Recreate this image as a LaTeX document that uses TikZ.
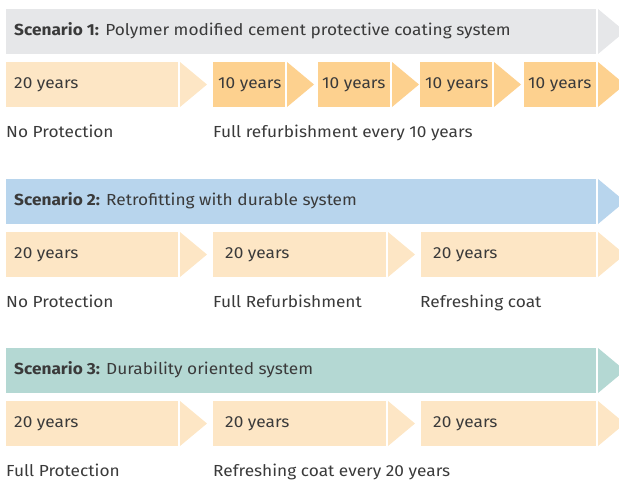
\documentclass[tikz,border=0pt]{standalone}
\usepackage{fontspec}
\setmainfont{Fira Sans}[FakeStretch=1.08]
\definecolor{hgray}{HTML}{E6E7E9}
\definecolor{hblue}{HTML}{B8D5ED}
\definecolor{hteal}{HTML}{B4D8D3}
\definecolor{lorange}{HTML}{FDE6C5}
\definecolor{dorange}{HTML}{FDD18F}
\definecolor{textgray}{HTML}{3A3A3A}
\newcommand\segarrow[4]{% x1, x2, ytop, colour
  \fill[#4] (#1,#3) rectangle (#2,#3+45);
  \fill[#4] (#2+2,#3) -- (#2+29,#3+22.5) -- (#2+2,#3+45) -- cycle;
}
\begin{document}
\begin{tikzpicture}[x=1pt,y=-1pt,
  txt/.style={anchor=base west, inner sep=0pt, text=textgray, font=\fontsize{16}{18}\selectfont}]
\useasboundingbox (0,0) rectangle (619,482);
\clip (0,0) rectangle (619,482);
% ---------- Scenario 1
\segarrow{6}{596}{9}{hgray}
\node[txt] (h1) at (14,35) {\textbf{Scenario 1:} Polymer modified cement protective coating system};
\segarrow{6}{178}{62}{lorange}
\segarrow{213}{285}{62}{dorange}
\segarrow{318}{390}{62}{dorange}
\segarrow{420}{492}{62}{dorange}
\segarrow{524}{596}{62}{dorange}
\node[txt] (a1) at (14,88) {20 years};
\node[txt] (a2) at (218,88) {10 years};
\node[txt] (a3) at (322,88) {10 years};
\node[txt] (a4) at (425,88) {10 years};
\node[txt] (a5) at (528,88) {10 years};
\node[txt] (l11) at (6,137) {No Protection};
\node[txt] (l12) at (213,137) {Full refurbishment every 10 years};
% ---------- Scenario 2
\segarrow{6}{596}{179}{hblue}
\node[txt] (h2) at (14,205) {\textbf{Scenario 2:} Retrofitting with durable system};
\segarrow{6}{178}{232}{lorange}
\segarrow{213}{386}{232}{lorange}
\segarrow{421}{596}{232}{lorange}
\node[txt] (b1) at (14,258) {20 years};
\node[txt] (b2) at (225,258) {20 years};
\node[txt] (b3) at (433,258) {20 years};
\node[txt] (l21) at (6,307) {No Protection};
\node[txt] (l22) at (213,307) {Full Refurbishment};
\node[txt] (l23) at (420,307) {Refreshing coat};
% ---------- Scenario 3
\segarrow{6}{596}{348}{hteal}
\node[txt] (h3) at (14,374) {\textbf{Scenario 3:} Durability oriented system};
\segarrow{6}{178}{401}{lorange}
\segarrow{213}{386}{401}{lorange}
\segarrow{421}{596}{401}{lorange}
\node[txt] (c1) at (14,427) {20 years};
\node[txt] (c2) at (225,427) {20 years};
\node[txt] (c3) at (433,427) {20 years};
\node[txt] (l31) at (6,476) {Full Protection};
\node[txt] (l32) at (213,476) {Refreshing coat every 20 years};
\end{tikzpicture}
\end{document}
